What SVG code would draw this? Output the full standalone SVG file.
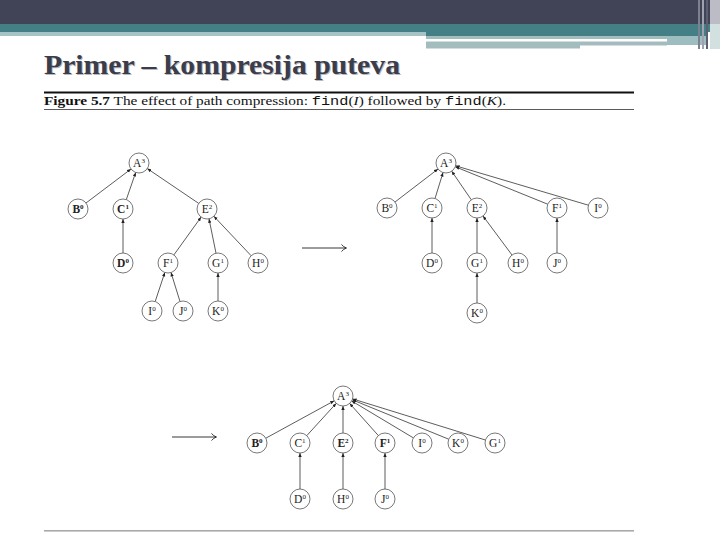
<svg xmlns="http://www.w3.org/2000/svg" width="720" height="540" viewBox="0 0 720 540">
<style>
.n circle{fill:#fff;stroke:#555;stroke-width:0.8}
.n text{font-family:"Liberation Serif",serif;font-size:11.5px;fill:#222;text-anchor:middle}
.sup{font-size:7px}
.e line{stroke:#333;stroke-width:0.8;marker-end:url(#ah)}
.cap{font-family:"Liberation Serif",serif;font-size:13px;fill:#111}
.mono{font-family:"Liberation Mono",monospace}
</style>
<defs>
<marker id="ah" viewBox="0 0 6 6" refX="6" refY="3" markerWidth="4" markerHeight="4" orient="auto" markerUnits="userSpaceOnUse"><path d="M0,0.5 L6,3 L0,5.5 Z" fill="#222"/></marker>
</defs>
<rect width="720" height="540" fill="#fff"/>
<g id="header">
<rect x="0" y="0" width="720" height="24" fill="#414456"/>
<rect x="0" y="24" width="720" height="8" fill="#457f86"/>
<rect x="0" y="32" width="426" height="4" fill="#a5c2c4"/>
<rect x="426" y="32" width="282" height="4" fill="#457f86"/>
<rect x="426" y="36" width="241" height="3" fill="#a3bcbe"/>
<rect x="426" y="41.5" width="154" height="7" fill="#a3bcbe"/>
<rect x="580" y="41.5" width="87" height="4" fill="#a3bcbe"/>
<rect x="667" y="36" width="41" height="9" fill="#9dbdc0"/>
<rect x="698" y="0" width="2" height="49" fill="#7c8090"/>
<rect x="702" y="0" width="2" height="49" fill="#9fa3b0"/>
<rect x="706" y="0" width="2" height="49" fill="#5c6072"/>
<rect x="710" y="0" width="10" height="24" fill="#bcbcc6"/>
<rect x="710" y="24" width="10" height="25" fill="#d2e0e0"/>
</g>
<g id="title">
<text x="45" y="75" font-family="Liberation Serif,serif" font-weight="bold" font-size="28" fill="#b8b8bc" textLength="356" lengthAdjust="spacingAndGlyphs">Primer – kompresija puteva</text>
<text x="44" y="74" font-family="Liberation Serif,serif" font-weight="bold" font-size="28" fill="#3c3d4a" textLength="356" lengthAdjust="spacingAndGlyphs">Primer – kompresija puteva</text>
</g>
<g id="caption">
<rect x="44" y="91.5" width="590" height="2" fill="#111"/>
<text x="44" y="105" class="cap" textLength="462" lengthAdjust="spacingAndGlyphs"><tspan font-weight="bold">Figure 5.7</tspan> The effect of path compression: <tspan class="mono">find</tspan>(<tspan font-style="italic">I</tspan>) followed by <tspan class="mono">find</tspan>(<tspan font-style="italic">K</tspan>).</text>
<rect x="44" y="109" width="590" height="0.8" fill="#333"/>
<rect x="44" y="530.5" width="590" height="0.8" fill="#555"/>
</g>
<g id="connectors" class="e">
<line x1="86" y1="203" x2="131" y2="169"/>
<line x1="126.3" y1="199.6" x2="135.7" y2="172.5"/>
<line x1="198.7" y1="203.4" x2="147.3" y2="168.6"/>
<line x1="123" y1="253" x2="123" y2="219"/>
<line x1="173.9" y1="254.9" x2="201.1" y2="217.1"/>
<line x1="216" y1="253.2" x2="209" y2="218.8"/>
<line x1="251.1" y1="255.7" x2="213.9" y2="216.3"/>
<line x1="155.2" y1="301.5" x2="164.8" y2="272.5"/>
<line x1="180" y1="301.5" x2="171" y2="272.5"/>
<line x1="218" y1="301" x2="218" y2="273"/>

<line x1="395" y1="202" x2="438" y2="169"/>
<line x1="435" y1="198.5" x2="443" y2="172.6"/>
<line x1="471.3" y1="199.8" x2="451.7" y2="171.2"/>
<line x1="547.7" y1="204.2" x2="455.3" y2="166.8"/>
<line x1="588.4" y1="205.2" x2="455.6" y2="165.8"/>
<line x1="432" y1="253" x2="432" y2="218"/>
<line x1="477" y1="253" x2="477" y2="218"/>
<line x1="512" y1="255" x2="483" y2="216"/>
<line x1="557" y1="253" x2="557" y2="218"/>
<line x1="477" y1="303" x2="477" y2="273"/>

<line x1="265.8" y1="438.2" x2="334.2" y2="400.8"/>
<line x1="306.8" y1="435.6" x2="336.2" y2="403.4"/>
<line x1="343" y1="433" x2="343" y2="406"/>
<line x1="378.3" y1="435.5" x2="349.7" y2="403.5"/>
<line x1="413.4" y1="437.9" x2="351.6" y2="400.9"/>
<line x1="448.7" y1="439.2" x2="352.3" y2="399.8"/>
<line x1="485.4" y1="440" x2="352.6" y2="398.9"/>
<line x1="300" y1="489" x2="300" y2="453" stroke="#999"/>
<line x1="343" y1="489" x2="343" y2="453"/>
<line x1="385" y1="489" x2="385" y2="453"/>
</g>
<g id="arrow1" fill="none" stroke="#222" stroke-width="0.9">
<line x1="302" y1="248" x2="346" y2="248"/>
<path d="M341.5,244.5 Q343.5,247 346.5,248 Q343.5,249 341.5,251.5"/>
</g>
<g id="arrow2" fill="none" stroke="#222" stroke-width="0.9">
<line x1="172" y1="437" x2="216" y2="437"/>
<path d="M211.5,433.5 Q213.5,436 216.5,437 Q213.5,438 211.5,440.5"/>
</g>
<g id="t1A" class="n"><circle cx="139" cy="163" r="10"/><text x="139" y="167">A<tspan class="sup" dy="-4">3</tspan></text></g>
<g id="t1B" class="n"><circle cx="78" cy="209" r="10"/><text x="78" y="213" font-weight="bold">B<tspan class="sup" dy="-4">0</tspan></text></g>
<g id="t1C" class="n"><circle cx="123" cy="209" r="10"/><text x="123" y="213" font-weight="bold">C<tspan class="sup" dy="-4">1</tspan></text></g>
<g id="t1E" class="n"><circle cx="207" cy="209" r="10"/><text x="207" y="213">E<tspan class="sup" dy="-4">2</tspan></text></g>
<g id="t1D" class="n"><circle cx="123" cy="263" r="10"/><text x="123" y="267" font-weight="bold">D<tspan class="sup" dy="-4">0</tspan></text></g>
<g id="t1F" class="n"><circle cx="168" cy="263" r="10"/><text x="168" y="267">F<tspan class="sup" dy="-4">1</tspan></text></g>
<g id="t1G" class="n"><circle cx="218" cy="263" r="10"/><text x="218" y="267">G<tspan class="sup" dy="-4">1</tspan></text></g>
<g id="t1H" class="n"><circle cx="258" cy="263" r="10"/><text x="258" y="267">H<tspan class="sup" dy="-4">0</tspan></text></g>
<g id="t1I" class="n"><circle cx="152" cy="311" r="10"/><text x="152" y="315">I<tspan class="sup" dy="-4">0</tspan></text></g>
<g id="t1J" class="n"><circle cx="183" cy="311" r="10"/><text x="183" y="315">J<tspan class="sup" dy="-4">0</tspan></text></g>
<g id="t1K" class="n"><circle cx="218" cy="311" r="10"/><text x="218" y="315">K<tspan class="sup" dy="-4">0</tspan></text></g>

<g id="t2A" class="n"><circle cx="446" cy="163" r="10"/><text x="446" y="167">A<tspan class="sup" dy="-4">3</tspan></text></g>
<g id="t2B" class="n"><circle cx="387" cy="208" r="10"/><text x="387" y="212">B<tspan class="sup" dy="-4">0</tspan></text></g>
<g id="t2C" class="n"><circle cx="432" cy="208" r="10"/><text x="432" y="212">C<tspan class="sup" dy="-4">1</tspan></text></g>
<g id="t2E" class="n"><circle cx="477" cy="208" r="10"/><text x="477" y="212">E<tspan class="sup" dy="-4">2</tspan></text></g>
<g id="t2F" class="n"><circle cx="557" cy="208" r="10"/><text x="557" y="212">F<tspan class="sup" dy="-4">1</tspan></text></g>
<g id="t2I" class="n"><circle cx="598" cy="208" r="10"/><text x="598" y="212">I<tspan class="sup" dy="-4">0</tspan></text></g>
<g id="t2D" class="n"><circle cx="432" cy="263" r="10"/><text x="432" y="267">D<tspan class="sup" dy="-4">0</tspan></text></g>
<g id="t2G" class="n"><circle cx="477" cy="263" r="10"/><text x="477" y="267">G<tspan class="sup" dy="-4">1</tspan></text></g>
<g id="t2H" class="n"><circle cx="518" cy="263" r="10"/><text x="518" y="267">H<tspan class="sup" dy="-4">0</tspan></text></g>
<g id="t2J" class="n"><circle cx="557" cy="263" r="10"/><text x="557" y="267">J<tspan class="sup" dy="-4">0</tspan></text></g>
<g id="t2K" class="n"><circle cx="477" cy="313" r="10"/><text x="477" y="317">K<tspan class="sup" dy="-4">0</tspan></text></g>

<g id="t3A" class="n"><circle cx="343" cy="396" r="10"/><text x="343" y="400">A<tspan class="sup" dy="-4">3</tspan></text></g>
<g id="t3B" class="n"><circle cx="257" cy="443" r="10"/><text x="257" y="447" font-weight="bold">B<tspan class="sup" dy="-4">0</tspan></text></g>
<g id="t3C" class="n"><circle cx="300" cy="443" r="10"/><text x="300" y="447">C<tspan class="sup" dy="-4">1</tspan></text></g>
<g id="t3E" class="n"><circle cx="343" cy="443" r="10"/><text x="343" y="447" font-weight="bold">E<tspan class="sup" dy="-4">2</tspan></text></g>
<g id="t3F" class="n"><circle cx="385" cy="443" r="10"/><text x="385" y="447" font-weight="bold">F<tspan class="sup" dy="-4">1</tspan></text></g>
<g id="t3I" class="n"><circle cx="422" cy="443" r="10"/><text x="422" y="447">I<tspan class="sup" dy="-4">0</tspan></text></g>
<g id="t3K" class="n"><circle cx="458" cy="443" r="10"/><text x="458" y="447">K<tspan class="sup" dy="-4">0</tspan></text></g>
<g id="t3G" class="n"><circle cx="495" cy="443" r="10"/><text x="495" y="447">G<tspan class="sup" dy="-4">1</tspan></text></g>
<g id="t3D" class="n"><circle cx="300" cy="499" r="10"/><text x="300" y="503">D<tspan class="sup" dy="-4">0</tspan></text></g>
<g id="t3H" class="n"><circle cx="343" cy="499" r="10"/><text x="343" y="503">H<tspan class="sup" dy="-4">0</tspan></text></g>
<g id="t3J" class="n"><circle cx="385" cy="499" r="10"/><text x="385" y="503">J<tspan class="sup" dy="-4">0</tspan></text></g>
</svg>
